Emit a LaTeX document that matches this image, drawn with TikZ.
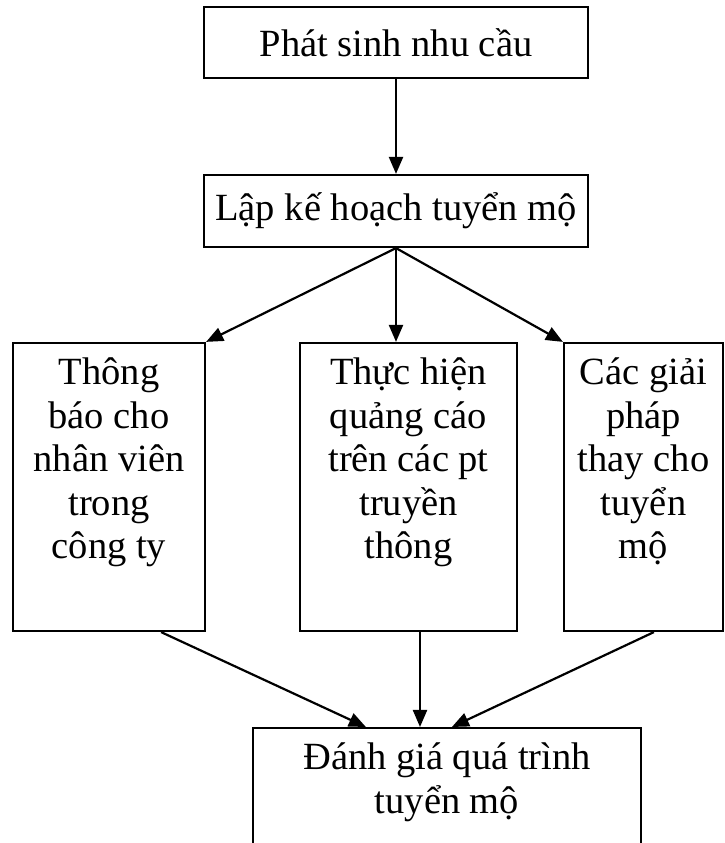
\documentclass[tikz,border=0pt]{standalone}
\usepackage{fontspec}
\setmainfont{Liberation Serif}
\usetikzlibrary{arrows.meta}
\begin{document}
\begin{tikzpicture}[x=1pt,y=1pt,
  box/.style={draw, line width=2.2pt, inner sep=0pt, font=\fontsize{38.5}{44}\selectfont},
  flow/.style={-{Triangle[length=17pt,width=14pt]}, line width=2.2pt},
  txt/.style={font=\fontsize{38.5}{43.5}\selectfont, align=center, inner sep=0pt, anchor=north}]
\useasboundingbox (0,0) rectangle (725,843);
\clip (0,0) rectangle (725,843);

% top two steps
\node[box, minimum width=384pt, minimum height=71pt] (need) at (396,800.5) {Phát sinh nhu cầu};
\node[box, minimum width=384pt, minimum height=72pt] (plan) at (396,632) {Lập kế hoạch tuyển mộ};

% three recruitment channels
\node[box, minimum width=192pt, minimum height=288pt] (inner) at (109,356) {};
\node[box, minimum width=217pt, minimum height=288pt] (ads) at (408.5,356) {};
\node[box, minimum width=159pt, minimum height=288pt] (alt) at (643.5,356) {};
\node[txt] (innertxt) at ([yshift=-16pt]inner.north) {Thông\\báo cho\\nhân viên\\trong\\công ty};
\node[txt] (adstxt) at ([yshift=-16pt]ads.north) {Thực hiện\\quảng cáo\\trên các pt\\truyền\\thông};
\node[txt] (alttxt) at ([yshift=-16pt]alt.north) {Các giải\\pháp\\thay cho\\tuyển\\mộ};

% evaluation step, running off the lower edge
\node[box, minimum width=388pt, minimum height=140pt, anchor=north] (eval) at (447,116) {};
\node[txt] (evaltxt) at ([yshift=-16pt]eval.north) {Đánh giá quá trình\\tuyển mộ};

% connectors
\draw[flow] (need) -- (plan);
\draw[flow] (plan.south) -- (inner.north east);
\draw[flow] (plan.south) -- (plan.south |- ads.north);
\draw[flow] (plan.south) -- (alt.north west);
\draw[flow] ([xshift=-45pt]inner.south east) -- ([xshift=114pt]eval.north west);
\draw[flow] ([xshift=11.5pt]ads.south) -- ([xshift=11.5pt]ads.south |- eval.north);
\draw[flow] ([xshift=91pt]alt.south west) -- ([xshift=200pt]eval.north west);
\end{tikzpicture}
\end{document}
